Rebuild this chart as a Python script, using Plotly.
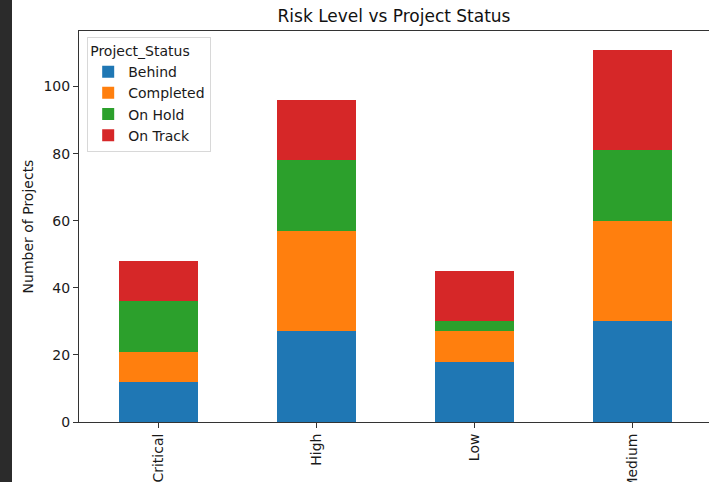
import plotly.graph_objects as go

# Stacked counts per risk level
risk_levels = ["Critical", "High", "Low", "Medium"]
behind = [12, 27, 18, 30]
completed = [9, 30, 9, 30]
on_hold = [15, 21, 3, 21]
on_track = [12, 18, 15, 30]

statuses = ["Behind", "Completed", "On Hold", "On Track"]
colors = ["#1f77b4", "#ff7f0e", "#2ca02c", "#d62728"]

fig = go.Figure()
for name, vals, col in zip(statuses, [behind, completed, on_hold, on_track], colors):
    fig.add_trace(
        go.Bar(
            x=risk_levels,
            y=vals,
            name=name,
            marker=dict(color=col, line=dict(width=0)),
            width=0.5,
        )
    )

totals = [sum(v) for v in zip(behind, completed, on_hold, on_track)]

fig.update_layout(
    barmode="stack",
    width=709,
    height=482,
    margin=dict(l=79, r=0, t=31, b=60, autoexpand=False),
    paper_bgcolor="white",
    plot_bgcolor="white",
    font=dict(family="DejaVu Sans", size=14, color="#1a1a1a"),
    title=dict(
        text="Risk Level vs Project Status",
        x=0.5,
        xref="paper",
        xanchor="center",
        y=0.966,
        yanchor="middle",
        font=dict(size=17, color="#111"),
    ),
    legend=dict(
        title=dict(text="Project_Status", side="top", font=dict(size=14)),
        x=0.013,
        y=0.985,
        xanchor="left",
        yanchor="top",
        bgcolor="white",
        bordercolor="#d8d8d8",
        borderwidth=1,
        font=dict(size=14),
        tracegroupgap=0,
        traceorder="normal",
    ),
    xaxis=dict(
        range=[-0.5, 3.487],
        showline=True,
        linecolor="#333",
        linewidth=1,
        mirror=True,
        ticks="outside",
        ticklen=5,
        tickcolor="#333",
        tickangle=-90,
        tickfont=dict(size=14),
        showgrid=False,
        automargin=False,
    ),
    yaxis=dict(
        title=dict(text="Number of Projects", standoff=6, font=dict(size=14)),
        range=[0, max(totals) * 1.05],
        tickvals=[0, 20, 40, 60, 80, 100],
        tickfont=dict(size=14),
        showline=True,
        linecolor="#333",
        linewidth=1,
        mirror=True,
        ticks="outside",
        ticklen=5,
        tickcolor="#333",
        showgrid=False,
        zeroline=False,
        automargin=False,
    ),
)

# dark strip on the left edge of the screenshot
fig.add_shape(
    type="rect",
    xref="paper",
    yref="paper",
    x0=-79 / 630,
    x1=-67 / 630,
    y0=-60 / 391,
    y1=422 / 391,
    fillcolor="#2b2b2b",
    line=dict(width=0),
    layer="above",
)

fig.write_html(
    "out.html",
    config={"displayModeBar": False},
    post_script="document.body.style.margin='0';document.body.style.overflow='hidden';",
)
